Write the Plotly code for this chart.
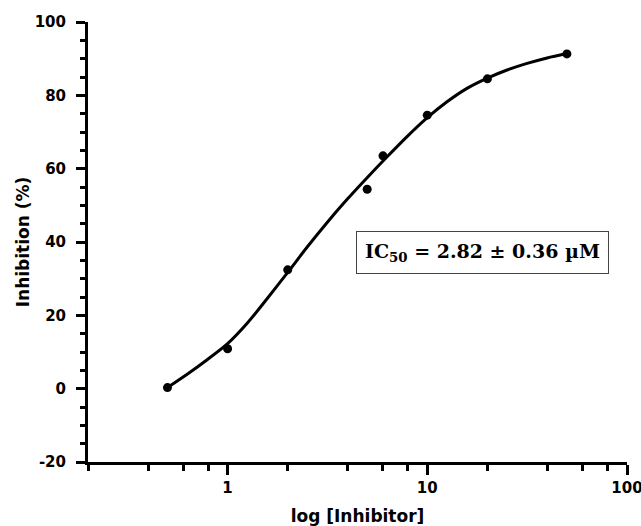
import plotly.graph_objects as go
import math

# Measured data points
dose = [0.5, 1, 2, 5, 6, 10, 20, 50]
inhibition = [0.3, 10.9, 32.4, 54.4, 63.5, 74.6, 84.5, 91.3]

# Fitted dose-response curve
curve_x = [0.5, 0.63, 0.79, 1, 1.26, 1.58, 2, 2.51, 3.16, 3.98, 5.01,
           6.31, 7.94, 10, 12.6, 15.8, 20, 25.1, 31.6, 39.8, 50]
curve_y = [0.3, 4.0, 7.9, 12.3, 18.0, 24.6, 31.7, 38.7, 45.4, 51.7, 57.6,
           63.3, 68.8, 73.9, 78.3, 81.9, 84.7, 86.9, 88.7, 90.2, 91.4]

y_ticks = [-20, 0, 20, 40, 60, 80, 100]
y_ticklabels = ["-20", "0", "20", "40", "60", "80", "100"]
x_ticks = [1, 10, 100]
x_ticklabels = ["1", "10", "100"]
x_minor = [0.2, 0.4, 0.6, 0.8, 2, 4, 6, 8, 20, 40, 60, 80]

annotation_text = "IC<sub>50</sub> = 2.82 ± 0.36 µM"

fig = go.Figure()
fig.add_trace(go.Scatter(x=curve_x, y=curve_y, mode="lines",
                         line=dict(color="black", width=3, shape="spline", smoothing=0.8),
                         hoverinfo="skip", showlegend=False))
fig.add_trace(go.Scatter(x=dose, y=inhibition, mode="markers",
                         marker=dict(color="black", size=9), showlegend=False))

tick_font = dict(family="DejaVu Sans", size=15, color="black", weight="bold")
title_font = dict(family="DejaVu Sans", size=17, color="black", weight="bold")

fig.update_layout(
    width=641, height=526,
    margin=dict(l=88, r=14, t=22, b=64),
    paper_bgcolor="white", plot_bgcolor="white",
    xaxis=dict(type="log", range=[math.log10(0.2), 2], automargin=False,
               tickvals=x_ticks, ticktext=x_ticklabels, ticklabeloverflow="allow",
               ticks="outside", ticklen=10, tickwidth=3, tickcolor="black",
               minor=dict(tickvals=x_minor, ticks="outside", ticklen=6, tickwidth=3, tickcolor="black"),
               showline=True, linecolor="black", linewidth=3,
               showgrid=False, zeroline=False,
               tickfont=tick_font,
               title=dict(text="log [Inhibitor]", font=title_font, standoff=16)),
    yaxis=dict(range=[-20, 100], tickvals=y_ticks, ticktext=y_ticklabels,
               automargin=False, ticklabeloverflow="allow",
               ticks="outside", ticklen=9, tickwidth=3, tickcolor="black",
               ticklabelstandoff=7,
               minor=dict(dtick=5, ticks="outside", ticklen=5, tickwidth=3, tickcolor="black"),
               showline=True, linecolor="black", linewidth=3,
               showgrid=False, zeroline=False,
               tickfont=tick_font,
               title=dict(text="Inhibition (%)", font=title_font, standoff=1)),
    annotations=[dict(
        x=0.731, y=0.477, xref="paper", yref="paper",
        text=annotation_text, showarrow=False,
        font=dict(family="DejaVu Serif", size=19, color="black", weight="bold"),
        bordercolor="#444444", borderwidth=1, borderpad=8, bgcolor="white",
        xanchor="center", yanchor="middle")],
)

fig.write_html("out.html", config={"displayModeBar": False},
               post_script="document.body.style.margin='0';document.body.style.overflow='hidden';")
